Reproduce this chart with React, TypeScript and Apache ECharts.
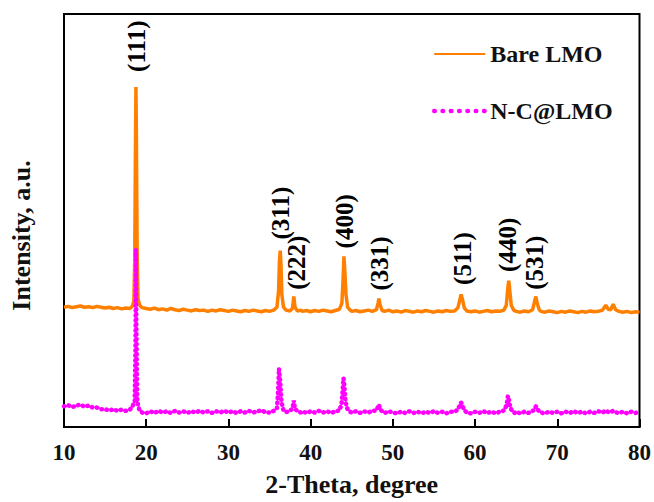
import React, { useEffect, useRef } from "react";
import * as echarts from "echarts";

// Bare LMO XRD pattern: [2-theta (deg), intensity (a.u.)]
const bareLMO: [number, number][] = [
  [10.0, 290], [10.5, 292], [11.0, 289], [11.5, 291], [12.0, 293], [12.5, 290], [13.0, 291], [13.5, 289],
  [14.0, 292], [14.5, 290], [15.0, 288], [15.5, 290], [16.0, 287], [16.5, 289], [17.0, 286], [17.5, 288],
  [18.0, 287], [18.3, 292], [18.5, 305], [18.6, 400], [18.7, 700], [18.75, 823], [18.8, 720], [18.9, 420],
  [19.0, 310], [19.2, 295], [19.5, 289], [20.0, 287], [20.5, 285], [21.0, 288], [21.5, 284], [22.0, 286],
  [22.5, 283], [23.0, 287], [23.5, 284], [24.0, 282], [24.5, 285], [25.0, 283], [25.5, 281], [26.0, 284],
  [26.5, 282], [27.0, 283], [27.5, 280], [28.0, 283], [28.5, 281], [29.0, 284], [29.5, 282], [30.0, 280],
  [30.5, 283], [31.0, 281], [31.5, 279], [32.0, 282], [32.5, 280], [33.0, 283], [33.5, 281], [34.0, 279],
  [34.5, 282], [35.0, 280], [35.5, 283], [35.9, 290], [36.1, 330], [36.2, 400], [36.3, 427], [36.4, 390],
  [36.5, 320], [36.7, 290], [37.0, 283], [37.5, 281], [37.8, 288], [37.95, 316], [38.1, 290], [38.4, 281],
  [38.8, 283], [39.0, 280], [39.5, 282], [40.0, 279], [40.5, 282], [41.0, 280], [41.5, 283], [42.0, 281],
  [42.5, 279], [43.0, 282], [43.5, 285], [43.8, 300], [43.95, 360], [44.05, 413], [44.15, 380], [44.3, 320],
  [44.5, 290], [44.8, 283], [45.0, 280], [45.5, 282], [46.0, 279], [46.5, 281], [47.0, 283], [47.5, 280],
  [48.0, 284], [48.2, 300], [48.3, 311], [48.45, 295], [48.7, 282], [49.0, 280], [49.5, 283], [50.0, 279],
  [50.5, 281], [51.0, 278], [51.5, 282], [52.0, 280], [52.5, 278], [53.0, 281], [53.5, 279], [54.0, 282],
  [54.5, 280], [55.0, 278], [55.5, 281], [56.0, 279], [56.5, 282], [57.0, 280], [57.5, 281], [57.9, 288],
  [58.15, 308], [58.3, 321], [58.45, 310], [58.7, 288], [59.0, 281], [59.5, 279], [60.0, 281], [60.5, 278],
  [61.0, 280], [61.5, 282], [62.0, 279], [62.5, 281], [63.0, 280], [63.5, 283], [63.8, 295], [64.0, 340],
  [64.1, 354], [64.2, 335], [64.4, 295], [64.7, 283], [65.0, 280], [65.5, 278], [66.0, 281], [66.5, 279],
  [67.0, 284], [67.25, 305], [67.4, 316], [67.55, 300], [67.8, 284], [68.0, 280], [68.5, 278], [69.0, 281],
  [69.5, 279], [70.0, 277], [70.5, 280], [71.0, 278], [71.5, 281], [72.0, 279], [72.5, 277], [73.0, 280],
  [73.5, 278], [74.0, 281], [74.5, 279], [75.0, 280], [75.5, 283], [75.9, 295], [76.2, 285], [76.5, 284],
  [76.8, 297], [77.1, 284], [77.5, 280], [78.0, 278], [78.5, 280], [79.0, 277], [79.5, 279], [80.0, 278],
];

// N-C@LMO XRD pattern: [2-theta (deg), intensity (a.u.)]
const ncLMO: [number, number][] = [
  [10.0, 50], [10.5, 53], [11.0, 48], [11.5, 52], [12.0, 54], [12.5, 49], [13.0, 52], [13.5, 47],
  [14.0, 47], [14.5, 43], [15.0, 43], [15.5, 40], [16.0, 43], [16.5, 39], [17.0, 42], [17.5, 39],
  [18.0, 42], [18.3, 48], [18.5, 58], [18.6, 62], [18.7, 200], [18.75, 429], [18.8, 250], [18.9, 70],
  [19.0, 52], [19.2, 40], [19.5, 35], [20.0, 33], [20.5, 38], [21.0, 34], [21.5, 39], [22.0, 35],
  [22.5, 38], [23.0, 34], [23.5, 39], [24.0, 35], [24.5, 38], [25.0, 34], [25.5, 38], [26.0, 35],
  [26.5, 39], [27.0, 35], [27.5, 38], [28.0, 34], [28.5, 38], [29.0, 35], [29.5, 39], [30.0, 35],
  [30.5, 38], [31.0, 34], [31.5, 38], [32.0, 35], [32.5, 39], [33.0, 35], [33.5, 38], [34.0, 40],
  [34.5, 36], [35.0, 35], [35.5, 39], [35.9, 45], [36.05, 90], [36.15, 141], [36.3, 110], [36.45, 60],
  [36.7, 40], [37.0, 36], [37.5, 39], [37.8, 45], [37.95, 64], [38.1, 44], [38.4, 38], [38.8, 35],
  [39.0, 38], [39.5, 34], [40.0, 38], [40.5, 35], [41.0, 39], [41.5, 35], [42.0, 38], [42.5, 34],
  [43.0, 38], [43.5, 40], [43.75, 55], [43.9, 90], [44.0, 118], [44.1, 100], [44.25, 60], [44.5, 42],
  [44.8, 37], [45.0, 35], [45.5, 38], [46.0, 34], [46.5, 38], [47.0, 35], [47.5, 39], [48.0, 40],
  [48.3, 54], [48.5, 42], [48.8, 36], [49.0, 34], [49.5, 38], [50.0, 35], [50.5, 33], [51.0, 37],
  [51.5, 34], [52.0, 38], [52.5, 34], [53.0, 37], [53.5, 33], [54.0, 37], [54.5, 34], [55.0, 38],
  [55.5, 34], [56.0, 37], [56.5, 33], [57.0, 37], [57.5, 37], [57.9, 42], [58.2, 55], [58.3, 59],
  [58.45, 52], [58.7, 40], [59.0, 35], [59.5, 33], [60.0, 37], [60.5, 34], [61.0, 38], [61.5, 34],
  [62.0, 37], [62.5, 33], [63.0, 37], [63.3, 38], [63.6, 42], [63.85, 55], [64.0, 75], [64.1, 68],
  [64.25, 50], [64.5, 38], [64.8, 34], [65.0, 37], [65.5, 33], [66.0, 37], [66.5, 34], [67.1, 40],
  [67.4, 50], [67.7, 40], [68.0, 35], [68.5, 33], [69.0, 37], [69.5, 34], [70.0, 37], [70.5, 33],
  [71.0, 37], [71.5, 34], [72.0, 38], [72.5, 34], [73.0, 37], [73.5, 33], [74.0, 37], [74.5, 34],
  [75.0, 38], [75.5, 35], [75.9, 40], [76.3, 35], [76.8, 39], [77.2, 35], [77.5, 34], [78.0, 37],
  [78.5, 33], [79.0, 37], [79.5, 34], [80.0, 36],
];

// Miller-index annotations (label centre positions)
const peakLabels = ["(111)", "(311)", "(222)", "(400)", "(331)", "(511)", "(440)", "(531)"];
const peakLabelX = [18.85, 36.3, 38.3, 44.1, 48.35, 58.45, 64.0, 67.25];
const peakLabelY = [922, 518, 398, 498, 396, 408, 441, 398];

const seriesNames = ["Bare LMO", "N-C@LMO"];
const xMin = 10;
const xMax = 80;
const xStep = 10;

const FONT = '"Liberation Serif", "Times New Roman", serif';

export default function App() {
  const ref = useRef<HTMLDivElement>(null);

  useEffect(() => {
    if (!ref.current) return;
    const chart = echarts.init(ref.current, undefined, { renderer: "svg" });
    chart.setOption({
      animation: false,
      backgroundColor: "#ffffff",
      grid: {
        left: 59,
        right: 13,
        top: 14,
        bottom: 64,
        show: true,
        borderColor: "#000",
        borderWidth: 2,
        backgroundColor: "transparent",
      },
      legend: {
        data: [
          { name: seriesNames[0] },
          {
            name: seriesNames[1],
            lineStyle: { color: "#FF00FF", width: 4.5, type: [0.5, 7.8], cap: "round" },
          },
        ],
        orient: "vertical",
        left: 427,
        top: 37,
        itemWidth: 51,
        itemHeight: 14,
        itemGap: 33,
        itemStyle: { opacity: 0 },
        textStyle: { fontFamily: FONT, fontWeight: "bold", fontSize: 24, color: "#111" },
        selectedMode: false,
      },
      xAxis: {
        type: "value",
        min: xMin,
        max: xMax,
        interval: xStep,
        name: "2-Theta, degree",
        nameLocation: "middle",
        nameGap: 44,
        nameTextStyle: { fontFamily: FONT, fontWeight: "bold", fontSize: 26, color: "#111" },
        axisLine: { show: true, lineStyle: { color: "#000", width: 2 } },
        axisTick: { show: true, inside: true, length: 8, lineStyle: { color: "#000", width: 2 } },
        axisLabel: { fontFamily: FONT, fontWeight: "bold", fontSize: 23, color: "#111", margin: 14 },
        splitLine: { show: false },
      },
      yAxis: {
        type: "value",
        min: 0,
        max: 1000,
        name: "Intensity, a.u.",
        nameLocation: "middle",
        nameGap: 30,
        nameTextStyle: { fontFamily: FONT, fontWeight: "bold", fontSize: 26, color: "#111", padding: [0, 30, 0, 0] },
        axisLine: { show: true, lineStyle: { color: "#000", width: 2 } },
        axisTick: { show: false },
        axisLabel: { show: false },
        splitLine: { show: false },
      },
      series: [
        {
          name: seriesNames[0],
          type: "line",
          data: bareLMO,
          symbol: "none",
          silent: true,
          color: "#FF8000",
          lineStyle: { color: "#FF8000", width: 3.5 },
        },
        {
          name: seriesNames[1],
          type: "line",
          data: ncLMO,
          symbol: "none",
          silent: true,
          color: "#FF00FF",
          lineStyle: { color: "#FF00FF", width: 4.5, type: [0.5, 4.5], cap: "round" },
        },
        {
          name: "labels",
          type: "scatter",
          silent: true,
          symbolSize: 1,
          itemStyle: { color: "rgba(255,255,255,0)" },
          data: peakLabels.map((t, i) => ({ name: t, value: [peakLabelX[i], peakLabelY[i]] })),
          label: {
            show: true,
            position: "inside",
            rotate: 90,
            formatter: "{b}",
            fontFamily: FONT,
            fontWeight: "bold",
            fontSize: 25,
            color: "#000",
            textBorderWidth: 0,
            opacity: 1,
            align: "center",
            verticalAlign: "middle",
          },
        },
      ],
    });
    return () => chart.dispose();
  }, []);

  return (
    <div
      ref={ref}
      style={{ position: "fixed", left: 0, top: 0, width: 654, height: 502, background: "#fff" }}
    />
  );
}
